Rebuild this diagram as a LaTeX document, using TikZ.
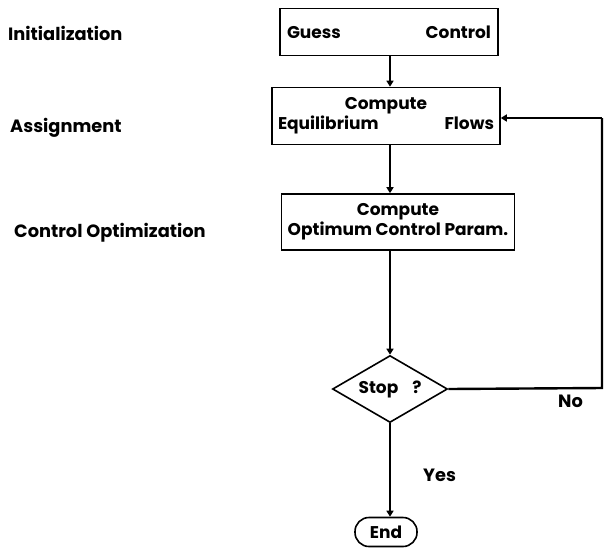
\documentclass[tikz,border=0pt]{standalone}
\usepackage{fontspec}
\setmainfont{Poppins}
\usetikzlibrary{shapes.geometric,arrows.meta}
\begin{document}
\begin{tikzpicture}[x=1pt,y=-1pt,
  box/.style={draw,line width=1.6pt,inner sep=0pt,align=center,font=\fontsize{17}{20}\selectfont\bfseries},
  lab/.style={anchor=west,inner sep=0pt,font=\fontsize{17.8}{20}\selectfont\bfseries},
  arr/.style={line width=2.4pt,-{Triangle[width=7pt,length=6pt]}},
  ln/.style={line width=2.4pt}]
\useasboundingbox (0,0) rectangle (615,555);
\node[lab] (l1) at (8,33) {Initialization};
\node[lab] (l2) at (10,128) {Assignment};
\node[lab] (l3) at (14,233) {Control Optimization};
\node[box,minimum width=218,minimum height=47] (guess) at (389,32) {\makebox[204pt]{Guess\hfill Control}};
\node[box,minimum width=228,minimum height=57] (eq) at (386,116) {Compute\\\makebox[216pt]{Equilibrium\hfill Flows}};
\node[box,minimum width=233,minimum height=56] (opt) at (398,222) {Compute\\Optimum Control Param.};
\node[box,diamond,minimum width=115,minimum height=67] (stop) at (390,389) {\makebox[0pt]{Stop\hspace{14pt}?}};
\node[box,rounded corners=14pt,minimum width=62,minimum height=29] (end) at (386,532) {End};
\coordinate (corner) at (602,388);
\coordinate (top) at (602,118);
\draw[arr] (guess.south -| 390,0) -- (eq.north -| 390,0);
\draw[arr] (eq.south -| 390,0) -- (opt.north -| 390,0);
\draw[arr] (opt.south -| 390,0) -- (stop.north);
\draw[arr] (stop.south) -- (end.north -| 390,0);
\draw[ln] (stop.east) -- (corner) -- (top);
\draw[arr] (top) -- (eq.east |- top);
\node[lab] (no) at (558,401) {No};
\node[lab] (yes) at (423,475) {Yes};
\end{tikzpicture}
\end{document}
